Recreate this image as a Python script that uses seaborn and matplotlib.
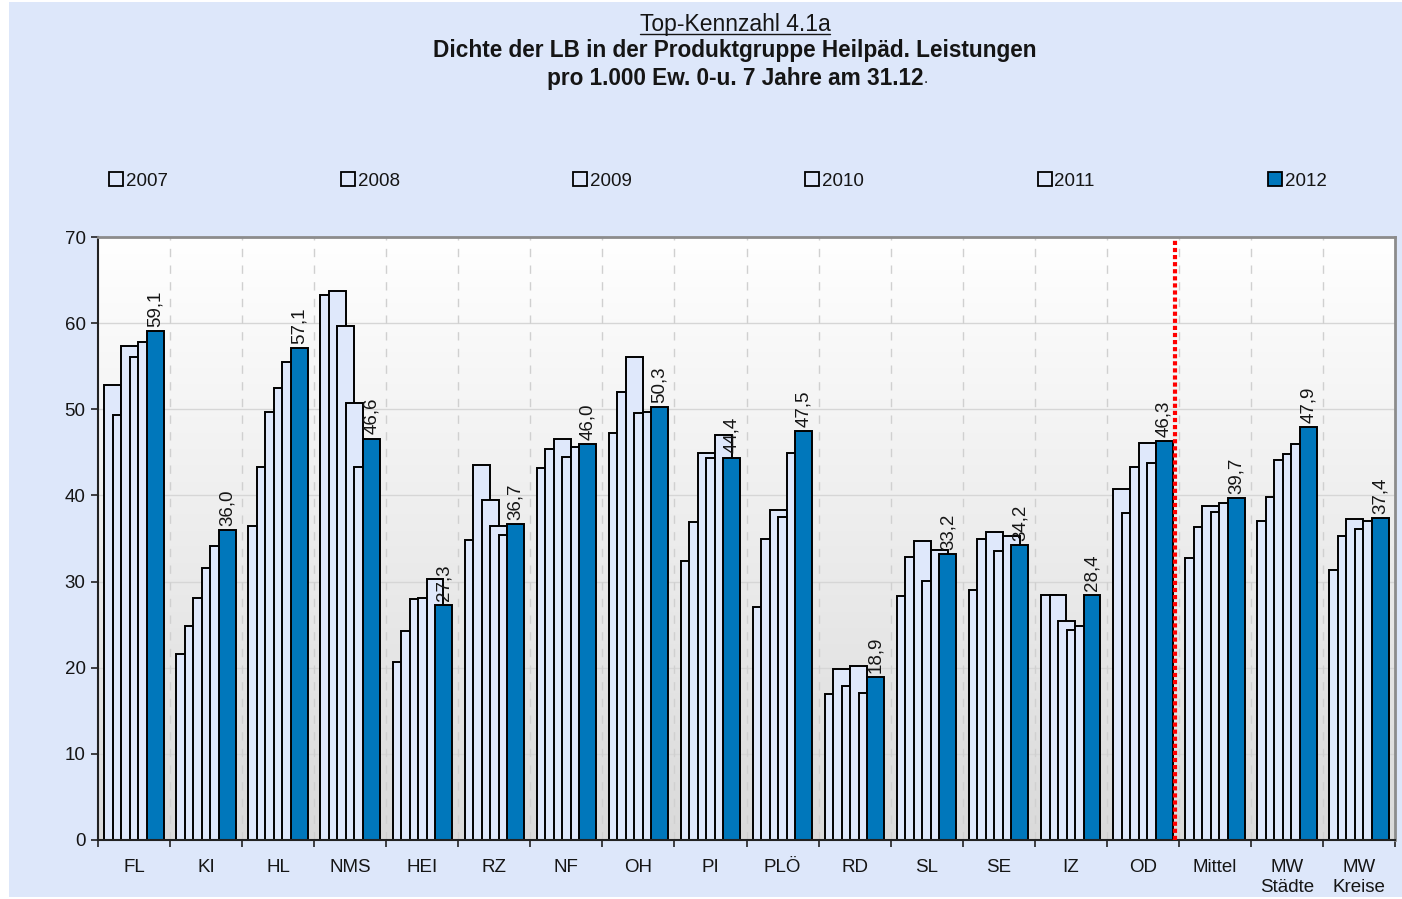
import matplotlib.pyplot as plt
import numpy as np
import seaborn as sns
from matplotlib.colors import LinearSegmentedColormap
from matplotlib.lines import Line2D
from matplotlib.patches import Patch, Rectangle

sns.set_theme(style="white")
plt.rcParams["font.family"] = ["Liberation Sans", "DejaVu Sans"]

regions = ["FL", "KI", "HL", "NMS", "HEI", "RZ", "NF", "OH", "PI", "PLÖ",
           "RD", "SL", "SE", "IZ", "OD", "Mittel", "MW\nStädte", "MW\nKreise"]
years = ["2007", "2008", "2009", "2010", "2011", "2012"]

v2007 = [52.8, 21.6, 36.5, 63.3, 20.7, 34.8, 43.2, 47.2, 32.4, 27.0,
         17.0, 28.3, 29.0, 28.4, 40.8, 32.7, 37.0, 31.4]
v2008 = [49.3, 24.8, 43.3, 63.7, 24.3, 43.5, 45.4, 52.0, 36.9, 34.9,
         19.8, 32.8, 35.0, 28.4, 38.0, 36.3, 39.8, 35.3]
v2009 = [57.4, 28.1, 49.7, 59.7, 28.0, 39.5, 46.6, 56.1, 44.9, 38.3,
         17.9, 34.7, 35.8, 25.4, 43.3, 38.8, 44.1, 37.3]
v2010 = [56.1, 31.6, 52.5, 50.7, 28.1, 36.5, 44.5, 49.6, 44.3, 37.5,
         20.2, 30.1, 33.6, 24.4, 46.1, 38.1, 44.8, 36.1]
v2011 = [57.8, 34.1, 55.5, 43.3, 30.3, 35.4, 45.6, 49.7, 47.0, 44.9,
         17.1, 33.7, 35.3, 24.9, 43.8, 39.1, 46.0, 37.0]
v2012 = [59.1, 36.0, 57.1, 46.6, 27.3, 36.7, 46.0, 50.3, 44.4, 47.5,
         18.9, 33.2, 34.2, 28.4, 46.3, 39.7, 47.9, 37.4]
series = [v2007, v2008, v2009, v2010, v2011, v2012]

LIGHT = "#DFE8FB"
DARK = "#0077BB"
BG = "#DDE7FA"
TXT = "#151515"
colors = [LIGHT] * 5 + [DARK]

W, H = 1402, 899
fig = plt.figure(figsize=(W / 100, H / 100), dpi=100, facecolor="white")
fig.patches.append(Rectangle((9 / W, 2 / H), (W - 9) / W, (H - 4) / H,
                             transform=fig.transFigure, facecolor=BG,
                             edgecolor="none", zorder=-10))

ax = fig.add_axes([98 / W, 1 - 840 / H, (1395 - 98) / W, (840 - 237) / H])

# vertical gradient behind the plot area
grad = LinearSegmentedColormap.from_list("bg", ["#DADADA", "#FFFFFF"])
ax.imshow(np.linspace(0, 1, 256).reshape(-1, 1), cmap=grad, aspect="auto",
          origin="lower", extent=(-0.5, 17.5, 0, 70), zorder=0)

idx = np.arange(len(regions))
step = 0.118
for k, (vals, col) in enumerate(zip(series, colors)):
    sns.barplot(x=idx + (k - 2.5) * step, y=vals, native_scale=True,
                orient="x", width=0.235, color=col, saturation=1,
                edgecolor="black", linewidth=1.4, errorbar=None, ax=ax)

for x, v in zip(idx + 2.5 * step, v2012):
    ax.annotate(f"{v:.1f}".replace(".", ","), (x, v), xytext=(0, 3),
                textcoords="offset points", rotation=90, ha="center",
                va="bottom", fontsize=13.5, color=TXT)

ax.set_xlim(-0.5, 17.5)
ax.set_ylim(0, 70)
ax.set_yticks(range(0, 71, 10))
ax.yaxis.grid(True, color="#D6D6D6", lw=1.0)
for b in idx[:-1] + 0.5:
    ax.axvline(b, color="#D0D0D0", lw=1.0, ls=(0, (6, 6)), zorder=0.6)
ax.axvline(14.45, ymax=0.995, color="#FF0000", lw=3.0, ls=(0, (1, 0.7)), zorder=5)
ax.set_axisbelow(True)

ax.set_xticks(idx)
ax.set_xticklabels(regions)
ax.set_xticks(np.arange(-0.5, 18, 1), minor=True)
ax.tick_params(axis="x", which="major", length=0, pad=14, labelsize=13.5, labelcolor=TXT)
ax.tick_params(axis="x", which="minor", length=5, width=1.2, color="#222222",
               direction="out", bottom=True)
ax.tick_params(axis="y", length=5, width=1.2, color="#222222", direction="out",
               left=True, pad=4, labelsize=13.5, labelcolor=TXT)
ax.set_xlabel("")
ax.set_ylabel("")
for side in ["left", "bottom"]:
    ax.spines[side].set_color("#222222")
    ax.spines[side].set_linewidth(1.5)
for side in ["top", "right"]:
    ax.spines[side].set_color("#8C8C8C")
    ax.spines[side].set_linewidth(2.0)

handles = [Patch(facecolor=c, edgecolor="black", linewidth=1.3) for c in colors]
fig.legend(handles, years, ncol=6, loc="lower left", mode="expand",
           bbox_to_anchor=(0.0775, 0.789, 0.869, 0.03), frameon=False,
           handlelength=0.75, handleheight=0.75, handletextpad=0.15,
           borderaxespad=0, borderpad=0, fontsize=13.5, labelcolor=TXT)

# title block
cx = 735 / W
t1 = fig.text(cx, 1 - 25 / H, "Top-Kennzahl 4.1a", ha="center", va="center",
              fontsize=16.5, color=TXT)
fig.text(cx, 1 - 51 / H, "Dichte der LB in der Produktgruppe Heilpäd. Leistungen",
         ha="center", va="center", fontsize=16.3, fontweight="bold", color=TXT)
t3 = fig.text(cx, 1 - 78 / H, "pro 1.000 Ew. 0-u. 7 Jahre am 31.12",
              ha="center", va="center", fontsize=16.3, fontweight="bold", color=TXT)

renderer = fig.canvas.get_renderer()
bb = t1.get_window_extent(renderer).transformed(fig.transFigure.inverted())
fig.add_artist(Line2D([bb.x0, bb.x1], [bb.y0 + 0.003, bb.y0 + 0.003],
                      transform=fig.transFigure, color=TXT, lw=1.0))
bb3 = t3.get_window_extent(renderer).transformed(fig.transFigure.inverted())
fig.text(bb3.x1, bb3.y0 + 0.004, ".", ha="left", va="bottom", fontsize=11, color=TXT)

fig.savefig("out.png", dpi=100, facecolor=fig.get_facecolor())
